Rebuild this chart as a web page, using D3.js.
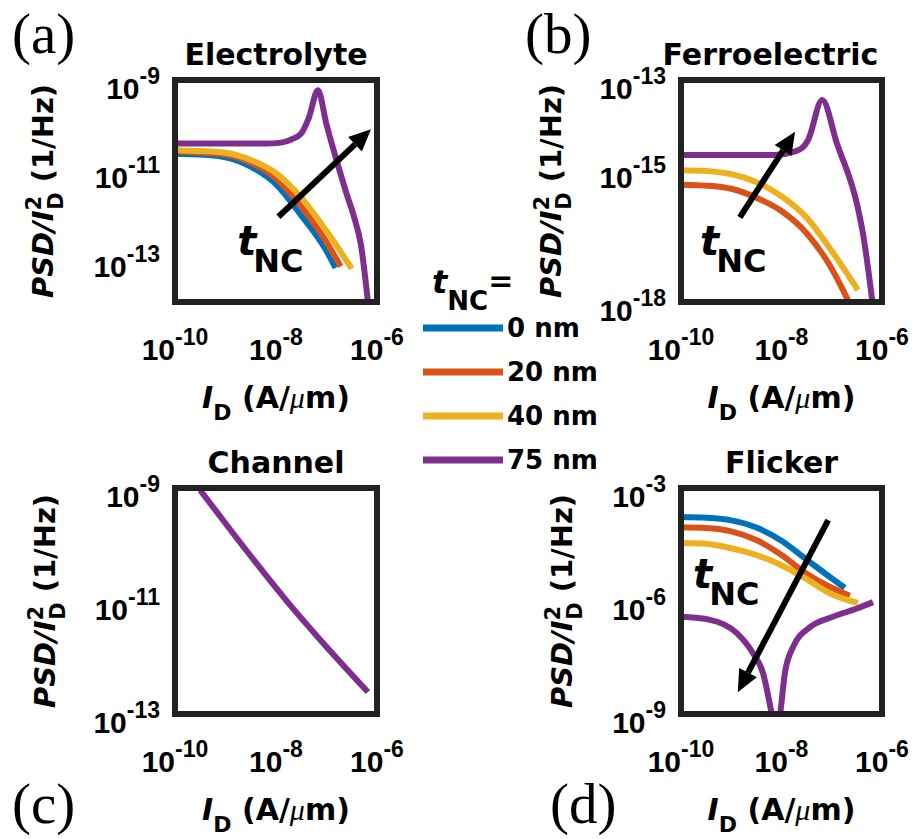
<!DOCTYPE html>
<html lang="en">
<head>
<meta charset="utf-8">
<script src="https://cdn.jsdelivr.net/npm/d3@7/dist/d3.min.js"></script>
<style>
    body { margin: 0; background: #fff; }
    text { font-family: "DejaVu Sans", sans-serif; font-weight: bold; fill: #000; }
</style>
</head>
<body>
<script>
    var w = 917;
    var h = 839;

    // legend / series
    var tncLabels = ['0 nm', '20 nm', '40 nm', '75 nm'];
    var tncColors = ['#0072BD', '#D95319', '#EDB120', '#7E2F8E'];
    var xTicks = [1e-10, 1e-8, 1e-6];

    // (a) Electrolyte
    var elecYTicks = [1e-9, 1e-11, 1e-13];
    var elecX0 = [1e-10, 3.16e-10, 1e-9, 3.16e-9, 1e-8, 3.16e-8, 1e-7, 1.51e-7];
    var elecY0 = [2.19e-11, 2.09e-11, 1.82e-11, 1.12e-11, 4.47e-12, 8.91e-13, 1.41e-13, 5.89e-14];
    var elecX20 = [1e-10, 3.16e-10, 1e-9, 3.16e-9, 1e-8, 3.16e-8, 1e-7, 1.91e-7];
    var elecY20 = [2.45e-11, 2.34e-11, 2.09e-11, 1.38e-11, 6.03e-12, 1.41e-12, 2.24e-13, 6.31e-14];
    var elecX40 = [1e-10, 3.16e-10, 1e-9, 3.16e-9, 1e-8, 3.16e-8, 1e-7, 3.16e-7];
    var elecY40 = [2.63e-11, 2.51e-11, 2.29e-11, 1.58e-11, 7.94e-12, 2.24e-12, 3.98e-13, 5.62e-14];
    var elecX75 = [1e-10, 1e-9, 6.31e-9, 1.26e-8, 2.0e-8, 3.16e-8, 4.47e-8, 6.76e-8, 1e-7, 1.45e-7, 2.51e-7, 3.55e-7, 4.79e-7, 6.61e-7];
    var elecY75 = [3.72e-11, 3.72e-11, 3.72e-11, 3.89e-11, 4.57e-11, 6.31e-11, 1.41e-10, 5.89e-10, 1e-10, 2.19e-11, 2.69e-12, 7.94e-13, 2.0e-13, 1e-14];

    // (b) Ferroelectric (0 nm lies below the axis range)
    var ferroYTicks = [1e-13, 1e-15, 1e-18];
    var ferroX20 = [1e-10, 3.16e-10, 1e-9, 3.16e-9, 1e-8, 3.16e-8, 1e-7, 2.09e-7];
    var ferroY20 = [4.37e-16, 4.17e-16, 3.55e-16, 2.24e-16, 1.12e-16, 3.55e-17, 5.62e-18, 1.12e-18];
    var ferroX40 = [1e-10, 3.16e-10, 1e-9, 3.16e-9, 1e-8, 3.16e-8, 1e-7, 3.31e-7];
    var ferroY40 = [9.33e-16, 8.91e-16, 7.59e-16, 5.01e-16, 2.40e-16, 7.94e-17, 1.41e-17, 1.86e-18];
    var ferroX75 = [1e-10, 1e-9, 7.41e-9, 1.70e-8, 2.69e-8, 3.39e-8, 6.46e-8, 1.26e-7, 3.31e-7, 4.17e-7, 6.61e-7];
    var ferroY75 = [2.04e-15, 2.04e-15, 2.04e-15, 2.40e-15, 3.09e-15, 4.47e-15, 3.55e-14, 3.80e-15, 1.32e-16, 3.55e-17, 7.94e-19];

    // (c) Channel
    var chanYTicks = [1e-9, 1e-11, 1e-13];
    var chanX75 = [3.16e-10, 1.41e-9, 1.70e-8, 6.76e-8, 6.61e-7];
    var chanY75 = [9.12e-10, 1.58e-10, 9.55e-12, 2.29e-12, 2.45e-13];

    // (d) Flicker
    var flickYTicks = [1e-3, 1e-6, 1e-9];
    var flickX0 = [1e-10, 3.16e-10, 1e-9, 3.16e-9, 1e-8, 3.16e-8, 1e-7, 1.82e-7];
    var flickY0 = [1.70e-4, 1.62e-4, 1.38e-4, 8.91e-5, 3.98e-5, 1.26e-5, 3.98e-6, 2.24e-6];
    var flickX20 = [1e-10, 3.16e-10, 1e-9, 3.16e-9, 1e-8, 3.16e-8, 1e-7, 2.29e-7];
    var flickY20 = [9.12e-5, 8.71e-5, 7.08e-5, 4.17e-5, 1.66e-5, 5.25e-6, 2.24e-6, 1.38e-6];
    var flickX40 = [1e-10, 3.16e-10, 1e-9, 3.16e-9, 1e-8, 3.16e-8, 1e-7, 3.31e-7];
    var flickY40 = [3.47e-5, 3.31e-5, 2.51e-5, 1.66e-5, 8.91e-6, 3.80e-6, 1.51e-6, 8.91e-7];
    var flickX75 = [1e-10, 3.80e-10, 1.29e-9, 2.69e-9, 4.27e-9, 6.46e-9, 7.76e-9, 9.33e-9, 1.17e-8, 1.70e-8, 3.72e-8, 1.05e-7, 3.16e-7, 6.61e-7];
    var flickY75 = [3.80e-7, 3.16e-7, 1.41e-7, 4.17e-8, 1.23e-8, 9.33e-10, 2.51e-10, 9.33e-10, 1.23e-8, 6.03e-8, 2.04e-7, 3.80e-7, 6.31e-7, 9.33e-7];

    // t_NC arrows [x1, y1, x2, y2] in data units, tail -> head
    var elecArrow = [1.12e-8, 8.3e-13, 7.6e-7, 7.8e-11];
    var ferroArrow = [1.48e-9, 8.1e-17, 1.86e-8, 6.8e-15];
    var flickArrow = [8.5e-8, 1.41e-4, 1.35e-9, 3.8e-9];
    // t_NC annotation anchor [x, y] in data units
    var elecTnc = [1.7e-9, 1.15e-13];
    var ferroTnc = [2.4e-10, 1.15e-17];
    var flickTnc = [1.74e-10, 2.2e-6];

    var panels = [
        {id: 'a', title: 'Electrolyte', left: 175, top: 80, width: 202, height: 222,
         yDomain: [1e-14, 1e-9], yTicks: elecYTicks, ylabX: 53, titleDx: 0,
         series: [[elecX0, elecY0, 0], [elecX20, elecY20, 1], [elecX40, elecY40, 2], [elecX75, elecY75, 3]],
         arrow: elecArrow, tnc: elecTnc, letter: '(a)', letterPos: [12, 53]},
        {id: 'b', title: 'Ferroelectric', left: 681, top: 80, width: 201, height: 222,
         yDomain: [1e-18, 1e-13], yTicks: ferroYTicks, ylabX: 561, titleDx: -11,
         series: [[ferroX20, ferroY20, 1], [ferroX40, ferroY40, 2], [ferroX75, ferroY75, 3]],
         arrow: ferroArrow, tnc: ferroTnc, letter: '(b)', letterPos: [525, 53]},
        {id: 'c', title: 'Channel', left: 175, top: 488, width: 202, height: 226,
         yDomain: [1e-13, 1e-9], yTicks: chanYTicks, ylabX: 55, titleDx: 0,
         series: [[chanX75, chanY75, 3]],
         arrow: null, tnc: null, letter: '(c)', letterPos: [12, 823]},
        {id: 'd', title: 'Flicker', left: 681, top: 488, width: 201, height: 226,
         yDomain: [1e-9, 1e-3], yTicks: flickYTicks, ylabX: 572, titleDx: 0,
         series: [[flickX0, flickY0, 0], [flickX20, flickY20, 1], [flickX40, flickY40, 2], [flickX75, flickY75, 3]],
         arrow: flickArrow, tnc: flickTnc, letter: '(d)', letterPos: [550, 823]}
    ];

    var svg = d3.select('body').append('svg')
        .attr('width', w).attr('height', h);

    function powLabel(sel, v, base, sup, raise) {
        var e = Math.round(Math.log10(v));
        sel.append('tspan').attr('font-size', base).text('10');
        sel.append('tspan').attr('font-size', sup).attr('dy', -raise).text(e);
    }

    function drawArrow(g, x1, y1, x2, y2) {
        var ang = Math.atan2(y2 - y1, x2 - x1);
        var hl = 22, hw = 10;
        var bx = x2 - hl * Math.cos(ang), by = y2 - hl * Math.sin(ang);
        g.append('line')
            .attr('x1', x1).attr('y1', y1).attr('x2', bx).attr('y2', by)
            .attr('stroke', '#000').attr('stroke-width', 6);
        var px = -Math.sin(ang) * hw, py = Math.cos(ang) * hw;
        g.append('path')
            .attr('d', 'M' + x2 + ',' + y2 + 'L' + (bx + px) + ',' + (by + py) +
                'L' + (bx - px) + ',' + (by - py) + 'Z')
            .attr('fill', '#000');
    }

    panels.forEach(function(p) {
        var x = d3.scaleLog().domain([1e-10, 1e-6]).range([p.left, p.left + p.width]);
        var y = d3.scaleLog().domain(p.yDomain).range([p.top + p.height, p.top]);
        var g = svg.append('g');

        g.append('clipPath').attr('id', 'clip-' + p.id)
            .append('rect')
            .attr('x', p.left).attr('y', p.top)
            .attr('width', p.width).attr('height', p.height);

        var line = d3.line()
            .x(function(d) { return x(d[0]); })
            .y(function(d) { return y(d[1]); })
            .curve(d3.curveMonotoneX);

        var curves = g.append('g').attr('clip-path', 'url(#clip-' + p.id + ')');
        p.series.forEach(function(s) {
            var pts = s[0].map(function(v, i) { return [v, s[1][i]]; });
            curves.append('path')
                .attr('d', line(pts))
                .attr('fill', 'none')
                .attr('stroke', tncColors[s[2]])
                .attr('stroke-width', 6)
                .attr('stroke-linejoin', 'round');
        });

        // frame
        g.append('rect')
            .attr('x', p.left).attr('y', p.top)
            .attr('width', p.width).attr('height', p.height)
            .attr('fill', 'none').attr('stroke', '#222').attr('stroke-width', 6);

        // tick labels
        p.yTicks.forEach(function(v) {
            var t = g.append('text')
                .attr('x', p.left - 15).attr('y', y(v) + 19)
                .attr('text-anchor', 'end')
                .style('font-family', '"Liberation Sans", Arial, sans-serif');
            powLabel(t, v, 30, 23, 15);
        });
        xTicks.forEach(function(v) {
            var t = g.append('text')
                .attr('x', x(v)).attr('y', p.top + p.height + 58)
                .attr('text-anchor', 'middle')
                .style('font-family', '"Liberation Sans", Arial, sans-serif');
            powLabel(t, v, 30, 23, 15);
        });

        // title
        g.append('text')
            .attr('x', p.left + p.width / 2 + p.titleDx).attr('y', p.top - 15)
            .attr('text-anchor', 'middle')
            .attr('font-size', 30)
            .text(p.title);

        // y label
        var yl = g.append('text')
            .attr('transform', 'translate(' + p.ylabX + ',' + (p.top + p.height / 2) + ') rotate(-90)')
            .attr('text-anchor', 'middle')
            .attr('font-size', 29);
        yl.append('tspan').attr('font-style', 'italic').text('PSD/I');
        yl.append('tspan').attr('font-size', 21).attr('dy', -12).text('2');
        yl.append('tspan').attr('font-size', 21).attr('dx', -14).attr('dy', 22).text('D');
        yl.append('tspan').attr('dy', -10).text(' (1/Hz)');

        // x label
        var xl = g.append('text')
            .attr('x', p.left + p.width / 2).attr('y', p.top + p.height + 106)
            .attr('text-anchor', 'middle')
            .attr('font-size', 30);
        xl.append('tspan').attr('font-style', 'italic').text('I');
        xl.append('tspan').attr('font-size', 22).attr('dy', 12).text('D');
        xl.append('tspan').attr('dy', -12).text(' (A/');
        xl.append('tspan').style('font-style', 'italic').style('font-weight', 'normal')
            .style('font-family', '"Liberation Serif", serif').text('\u03bc');
        xl.append('tspan').text('m)');

        // panel letter
        g.append('text')
            .attr('x', p.letterPos[0]).attr('y', p.letterPos[1])
            .attr('font-size', 57)
            .style('font-weight', 'normal')
            .style('font-family', '"Liberation Serif", "Times New Roman", serif')
            .text(p.letter);

        if (p.arrow) {
            drawArrow(g, x(p.arrow[0]), y(p.arrow[1]), x(p.arrow[2]), y(p.arrow[3]));
        }
        if (p.tnc) {
            var tt = g.append('text')
                .attr('x', x(p.tnc[0])).attr('y', y(p.tnc[1]));
            tt.append('tspan').attr('font-size', 40).attr('font-style', 'italic').text('t');
            tt.append('tspan').attr('font-size', 32).attr('dx', -3).attr('dy', 17).text('NC');
        }
    });

    // legend
    var leg = svg.append('g');
    var lt = leg.append('text').attr('x', 432).attr('y', 293);
    lt.append('tspan').attr('font-size', 32).attr('font-style', 'italic').text('t');
    lt.append('tspan').attr('font-size', 26).attr('dy', 17).text('NC');
    lt.append('tspan').attr('font-size', 30).attr('dy', -19).text('=');

    var legY = d3.scalePoint().domain(tncLabels).range([328, 460]);
    tncLabels.forEach(function(lab, i) {
        leg.append('line')
            .attr('x1', 423).attr('x2', 503)
            .attr('y1', legY(lab)).attr('y2', legY(lab))
            .attr('stroke', tncColors[i]).attr('stroke-width', 7);
        leg.append('text')
            .attr('x', 507).attr('y', legY(lab) + 9)
            .attr('font-size', 26)
            .text(lab);
    });
</script>
</body>
</html>
